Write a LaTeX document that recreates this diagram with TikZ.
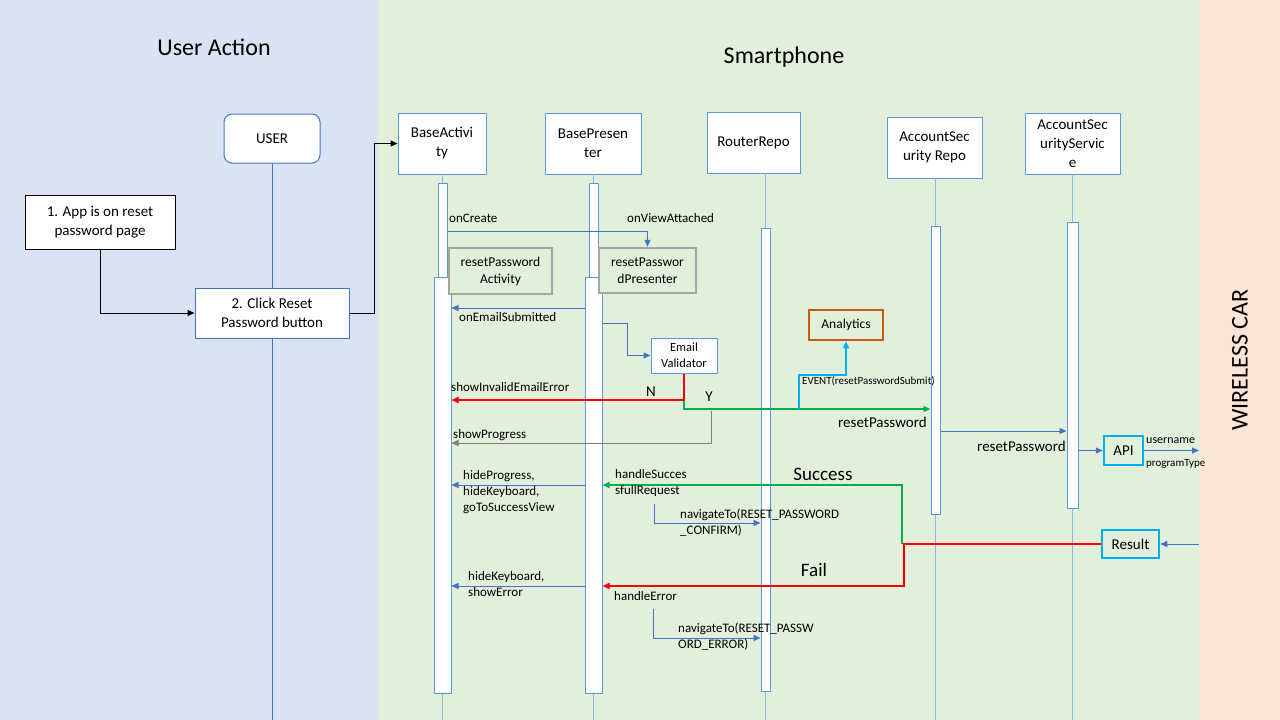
\documentclass[tikz,border=0pt]{standalone}
\usepackage{fontspec}
\setmainfont{Carlito}
\usetikzlibrary{arrows.meta}
\definecolor{bgblue}{HTML}{DAE3F3}
\definecolor{bggreen}{HTML}{E2EFDA}
\definecolor{bgpeach}{HTML}{FBE5D6}
\definecolor{boxblue}{HTML}{5B9BD5}
\definecolor{msgblue}{HTML}{4472C4}
\definecolor{lifeblue}{HTML}{8DB8E2}
\definecolor{okgreen}{HTML}{00B050}
\definecolor{evcyan}{HTML}{00B0F0}
\definecolor{anorange}{HTML}{C55A11}
\definecolor{boxgray}{HTML}{A5A5A5}
\definecolor{arrgray}{HTML}{7F7F7F}

\begin{document}
\begin{tikzpicture}[x=1pt,y=-1pt,
  title/.style={font=\fontsize{24}{29}\selectfont},
  hdr/.style={draw=boxblue, fill=white, line width=1pt, inner sep=0pt, align=center, font=\fontsize{15}{19}\selectfont},
  stepbox/.style={fill=white, line width=1pt, inner sep=0pt, align=center, font=\fontsize{15}{19}\selectfont},
  bar/.style={draw=boxblue, fill=white, line width=1pt, inner sep=0pt},
  graybox/.style={draw=boxgray, fill=bggreen, line width=2.5pt, inner sep=0pt, align=center, font=\fontsize{13.5}{17}\selectfont},
  cyanbox/.style={draw=evcyan, line width=2.5pt, inner sep=0pt, font=\fontsize{15}{18}\selectfont},
  lbl/.style={anchor=west, inner sep=0pt, align=left, font=\fontsize{13}{16}\selectfont},
  big/.style={inner sep=0pt, font=\fontsize{15}{18}\selectfont},
  life/.style={draw=lifeblue, line width=0.8pt},
  tip/.style={-{Triangle[length=7pt,width=6pt]}},
  msg/.style={tip, draw=msgblue, line width=1pt},
  flow/.style={tip, draw=black, line width=1pt},
  noline/.style={tip, draw=red, line width=2.5pt},
  yesline/.style={tip, draw=okgreen, line width=2.5pt}]
\useasboundingbox (0,0) rectangle (1280,720);
\fill[bgblue] (0,0) rectangle (378,720);
\fill[bggreen] (378,0) rectangle (1200,720);
\fill[bgpeach] (1200,0) rectangle (1280,720);
\node[title] (tuser) at (214,47) {User Action};
\node[title] (tphone) at (784,57) {Smartphone};
\node[title, rotate=90] (tcar) at (1240,360) {WIRELESS CAR};

% user side
\node[hdr, draw=msgblue, rounded corners=8pt, minimum width=96pt, minimum height=49pt] (user) at (272,138.5) {USER};
\draw[draw=msgblue, line width=1pt] (user.south) -- (user.south |- 0,720);
\node[stepbox, draw=black, minimum width=150pt, minimum height=54pt] (stepa) at (100,222) {1. App is on reset\\password page};
\node[stepbox, draw=msgblue, minimum width=154pt, minimum height=50pt] (stepb) at (272,313) {2. Click Reset\\Password button};

% lifeline heads
\node[hdr, minimum width=88pt, minimum height=61pt] (ba) at (442,143.5) {BaseActivi\\ty};
\node[hdr, minimum width=96pt, minimum height=61pt] (bp) at (593,143.5) {BasePresen\\ter};
\node[hdr, minimum width=93pt, minimum height=61pt] (rr) at (753.5,142.5) {RouterRepo};
\node[hdr, minimum width=95pt, minimum height=61pt] (asr) at (934.5,147.5) {AccountSec\\urity Repo};
\node[hdr, minimum width=95pt, minimum height=61pt] (ass) at (1072.5,143.5) {AccountSec\\urityServic\\e};

\draw[flow] (stepa.south) |- (stepb.west);
\draw[flow] (stepb.east) -- ++(25,0) |- (ba.west);

% lifelines and bars
\draw[life] (442.5,174) -- (442.5,720);
\draw[life] (593.5,174) -- (593.5,720);
\draw[life] (765.5,173) -- (765.5,720);
\draw[life] (935.5,178) -- (935.5,720);
\draw[life] (1072.5,174) -- (1072.5,720);
\node[bar, minimum width=9pt, minimum height=94pt] (ba1) at (442.5,230) {};
\node[bar, minimum width=17pt, minimum height=416pt] (ba2) at (442.5,485) {};
\node[bar, minimum width=9pt, minimum height=94pt] (bp1) at (593.5,230) {};
\node[bar, minimum width=17pt, minimum height=416pt] (bp2) at (593.5,485) {};
\node[bar, minimum width=9pt, minimum height=463pt] (rrbar) at (765.5,459.5) {};
\node[bar, minimum width=9pt, minimum height=288pt] (asrbar) at (935.5,370) {};
\node[bar, minimum width=11pt, minimum height=286pt] (assbar) at (1072.5,365) {};

% setup
\node[graybox, minimum width=103pt, minimum height=46pt] (rpa) at (500.5,271) {resetPassword\\Activity};
\node[graybox, minimum width=97pt, minimum height=45pt] (rpp) at (647.5,270.5) {resetPasswor\\dPresenter};
\draw[msg] (ba1.east |- 0,231) -| (rpp.north);
\node[lbl] (loncreate) at (449,218) {onCreate};
\node[lbl] (lattach) at (627,218) {onViewAttached};

% email check
\node[hdr, font=\fontsize{12.5}{16}\selectfont, minimum width=66pt, minimum height=35pt] (ev) at (684,355.5) {Email\\Validator};
\node[draw=anorange, fill=bggreen, line width=2.5pt, minimum width=74pt, minimum height=30pt, inner sep=0pt, font=\fontsize{13.5}{16}\selectfont] (an) at (846,325) {Analytics};
\draw[msg] (bp2.west |- 0,308) -- (ba2.east |- 0,308);
\node[lbl] (lsubmit) at (459,317) {onEmailSubmitted};
\draw[msg] (bp2.east |- 0,323) -- (627,323) |- (ev.west);
\draw[yesline] (ev.south) |- (asrbar.west |- 0,409);
\draw[noline] (ev.south) |- (ba2.east |- 0,400);
\node[lbl] (linvalid) at (451,387) {showInvalidEmailError};
\node[big] (ln) at (651,392) {N};
\node[big] (ly) at (709,397) {Y};
\coordinate (evfork) at (799,409);
\draw[tip, draw=evcyan, line width=2.5pt] (evfork) -- (799,375) -| (an.south);
\node[lbl, font=\fontsize{11}{13}\selectfont] (levent) at (802,381) {EVENT(resetPasswordSubmit)};
\node[big, anchor=west] (lreset) at (838,422) {resetPassword};
\coordinate (yfork) at (711,411);
\draw[tip, draw=arrgray, line width=1pt] (yfork) |- (ba2.east |- 0,443);
\node[lbl] (lprogress) at (453,435) {showProgress};

% service and car
\node[cyanbox, minimum width=39pt, minimum height=29pt] (api) at (1123.5,450.5) {API};
\node[cyanbox, minimum width=57pt, minimum height=28pt] (res) at (1130.5,544) {Result};
\draw[msg] (asrbar.east |- 0,431) -- (assbar.west |- 0,431);
\node[big, anchor=west] (lreset2) at (977,446) {resetPassword};
\draw[msg] (assbar.east |- api.west) -- (api.west);
\coordinate (carin) at (1199,453);
\coordinate (carout) at (1199,544);
\draw[msg] (api.east) -- (api.east -| carin);
\node[lbl, font=\fontsize{12}{14}\selectfont] (luser) at (1146,441) {username};
\node[lbl, font=\fontsize{11}{13}\selectfont] (lprog) at (1146,464) {programType};
\draw[msg] (carout) -- (res.east);

% success / fail
\draw[yesline] (902,544) |- (bp2.east |- 0,485);
\draw[noline] (res.west) -- (904,544) |- (bp2.east |- 0,586);
\node[inner sep=0pt, font=\fontsize{19}{22}\selectfont] (lsuccess) at (823,474) {Success};
\node[inner sep=0pt, font=\fontsize{19}{22}\selectfont] (lfail) at (814,570) {Fail};
\draw[msg] (bp2.west |- 0,485) -- (ba2.east |- 0,485);
\node[lbl] (lhandleok) at (615,483) {handleSucces\\sfullRequest};
\node[lbl] (lhide) at (463,492) {hideProgress,\\hideKeyboard,\\goToSuccessView};
\draw[msg] (654,504) |- (rrbar.west |- 0,523);
\node[lbl] (lnavok) at (680,523) {navigateTo(RESET\_PASSWORD\\\_CONFIRM)};
\draw[msg] (bp2.west |- 0,586) -- (ba2.east |- 0,586);
\node[lbl] (lerr) at (468,584) {hideKeyboard,\\showError};
\node[lbl] (lhandleerr) at (614,596) {handleError};
\draw[msg] (653,609) |- (rrbar.west |- 0,638);
\node[lbl] (lnaverr) at (678,637) {navigateTo(RESET\_PASSW\\ORD\_ERROR)};
\end{tikzpicture}
\end{document}
